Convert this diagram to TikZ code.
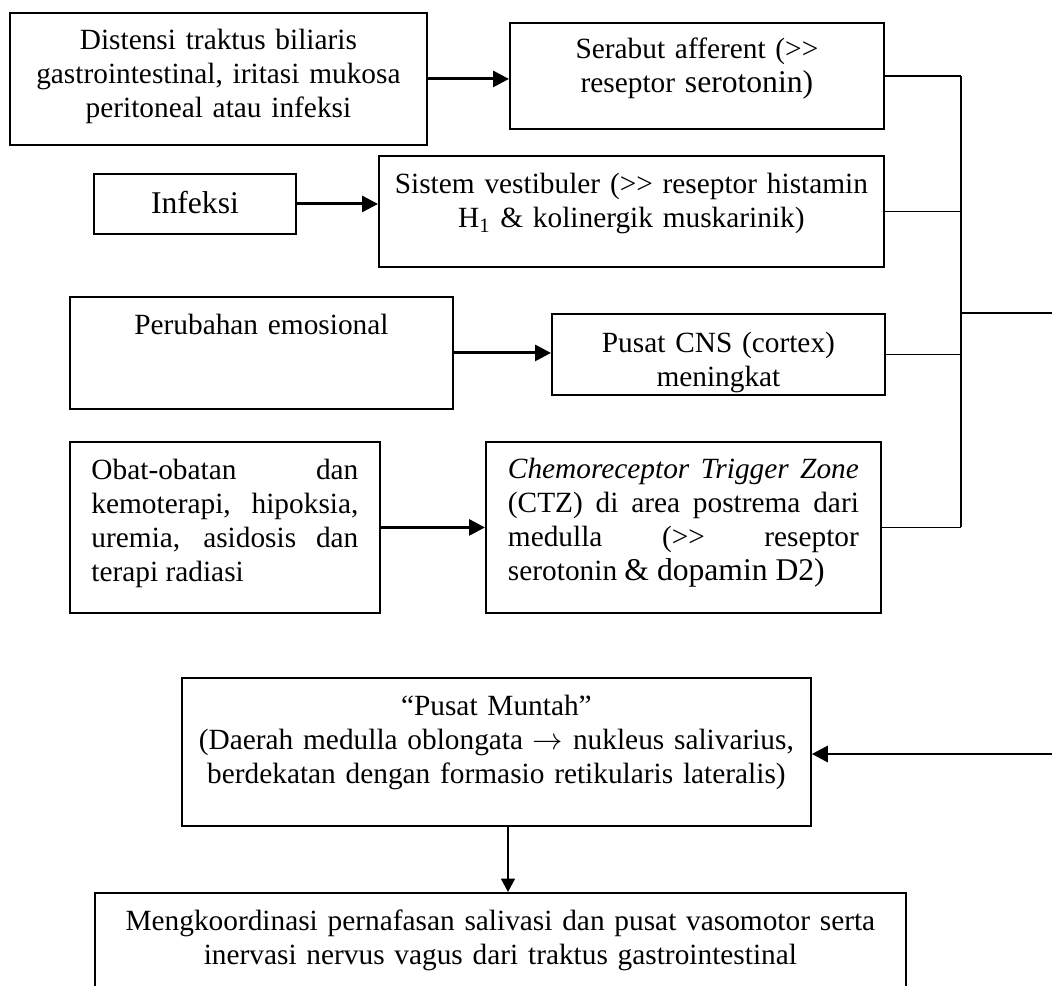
\documentclass[tikz,border=0pt]{standalone}
\usepackage{fontspec}
\setmainfont{Liberation Serif}
\usetikzlibrary{arrows.meta}

\tikzset{
  kotak/.style={draw, line width=1.1pt, anchor=north west, inner xsep=0.2cm, inner ysep=0pt, align=center, font=\fontsize{16.7}{19.2}\selectfont},
  panah/.style={line width=1.7pt, -{Triangle[length=0.32cm,width=0.32cm]}},
  panahtipis/.style={line width=1pt, -{Triangle[length=0.27cm,width=0.28cm]}},
  garis/.style={line width=0.95pt},
}

\begin{document}
\begin{tikzpicture}[x=0.02cm, y=-0.02cm]
\useasboundingbox (0,0) rectangle (1052,986);
\clip (0,0) rectangle (1052,986);
\node[kotak, text width=7.94cm, text height=0.74cm, text depth=1.90cm] (distensi) at (9,12) {Distensi traktus biliaris\\ gastrointestinal, iritasi mukosa\\ peritoneal atau infeksi};
\node[kotak, text width=7.08cm, text height=0.72cm, text depth=1.40cm] (serabut) at (509,22) {Serabut afferent (>\kern0pt>\\ reseptor {\fontsize{18}{19.2}\selectfont serotonin)}};
\node[kotak, text width=3.64cm, text height=0.80cm, text depth=0.40cm, font=\fontsize{18}{20}\selectfont] (infeksi) at (93,173) {Infeksi};
\node[kotak, text width=9.70cm, text height=0.76cm, text depth=1.46cm] (vestibuler) at (378,155) {Sistem vestibuler (>\kern0pt> reseptor histamin\\ H\textsubscript{1} \& kolinergik muskarinik)};
\node[kotak, text width=7.26cm, text height=0.76cm, text depth=1.48cm] (emosi) at (69,296) {Perubahan emosional};
\node[kotak, text width=6.26cm, text height=0.78cm, text depth=0.84cm] (cns) at (551,313) {Pusat CNS (cortex)\\ meningkat};
\node[kotak, align=justify, inner xsep=0.43cm, text width=5.34cm, text height=0.76cm, text depth=2.66cm] (obat) at (69,441) {Obat-obatan dan\linebreak kemoterapi, hipoksia,\linebreak uremia, asidosis dan\linebreak terapi radiasi};
\node[kotak, align=justify, inner xsep=0.44cm, text width=7.02cm, text height=0.74cm, text depth=2.68cm] (ctz) at (485,441) {\textit{Chemoreceptor Trigger Zone}\linebreak (CTZ) di area postrema dari\linebreak medulla (>\kern0pt> reseptor\linebreak serotonin {\fontsize{18}{19.2}\selectfont \& dopamin D2)}};
\node[kotak, text width=12.18cm, text height=0.76cm, text depth=2.20cm] (muntah) at (181,677) {“Pusat Muntah”\\ (Daerah medulla oblongata $\rightarrow$ nukleus salivarius,\\ berdekatan dengan formasio retikularis lateralis)};
\node[kotak, text width=15.82cm, text height=0.76cm, text depth=1.80cm] (koordinasi) at (94,892) {Mengkoordinasi pernafasan salivasi dan pusat vasomotor serta\\ inervasi nervus vagus dari traktus gastrointestinal};
\coordinate (bus) at (961,0);
\coordinate (keluar) at (1052,313);
\coordinate (masuk) at (1052,754);
\coordinate (turun) at (508,0);
\draw[panah] (distensi.east) -- (distensi.east -| serabut.west);
\draw[panah] (infeksi.east) -- (infeksi.east -| vestibuler.west);
\draw[panah] (emosi.east) -- (emosi.east -| cns.west);
\draw[panah] (obat.east) -- (obat.east -| ctz.west);
\foreach \n in {serabut,vestibuler,cns,ctz} {
    \draw[garis] (\n.east) -- (\n.east -| bus);
}
\draw[garis] (serabut.east -| bus) -- (ctz.east -| bus);
\draw[garis] (keluar -| bus) -- (keluar);
\draw[panah] (masuk) -- (masuk -| muntah.east);
\draw[panahtipis] (muntah.south -| turun) -- (koordinasi.north -| turun);
\end{tikzpicture}
\end{document}
